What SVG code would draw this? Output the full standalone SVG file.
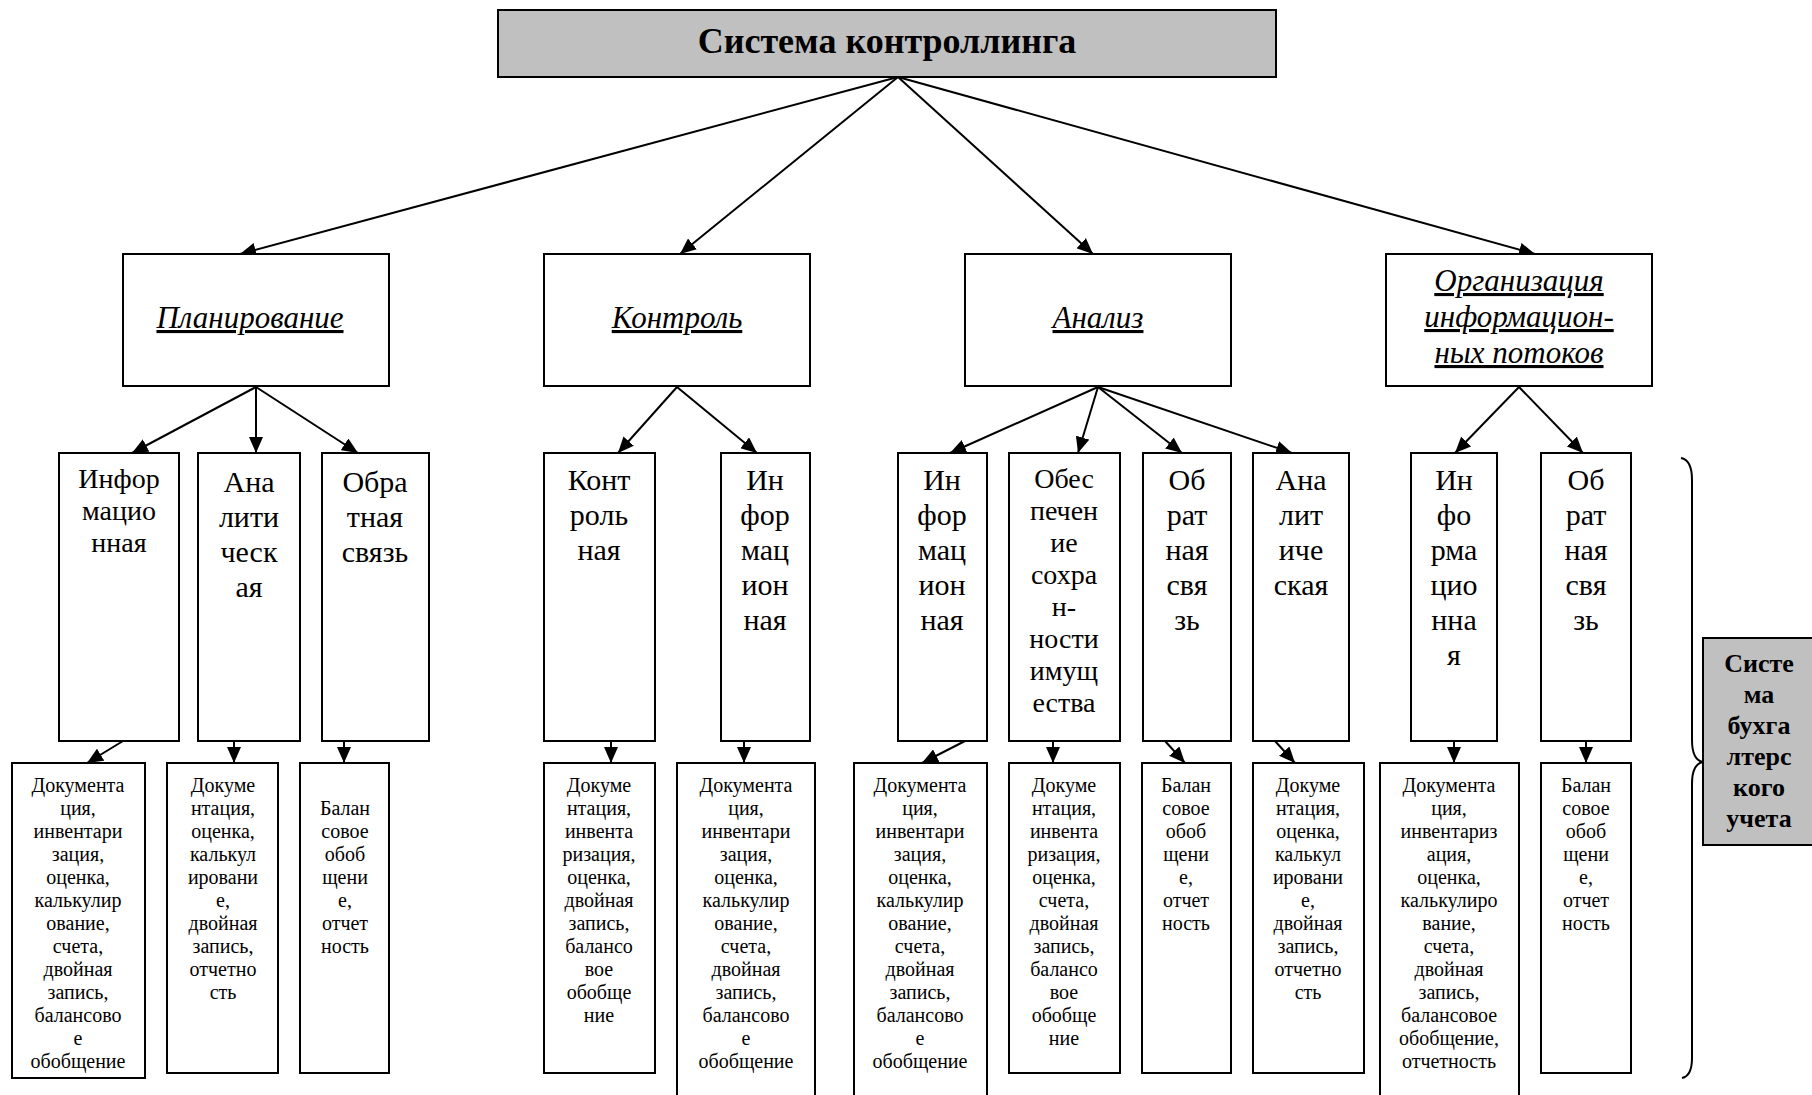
<svg xmlns="http://www.w3.org/2000/svg" width="1812" height="1095" viewBox="0 0 1812 1095" font-family="Liberation Serif, Tinos, Times New Roman, DejaVu Serif, serif">
<style>
.b{fill:#fff;stroke:#000;stroke-width:2}
.g{fill:#c0c0c0;stroke:#000;stroke-width:2}
text{font-family:'Liberation Serif','Tinos','Times New Roman','DejaVu Serif',serif;fill:#000;text-anchor:middle}
.t{font-size:36px;font-weight:bold}
.h{font-size:31px;font-style:italic;text-decoration:underline}
.m{font-size:30px}
.m2{font-size:28px}
.s{font-size:20px}
.r{font-size:26px;font-weight:bold}
.c{stroke:#000;stroke-width:2;fill:none;marker-end:url(#ah)}
</style>
<defs>
<marker id="ah" markerUnits="userSpaceOnUse" markerWidth="16" markerHeight="14" refX="16" refY="7" orient="auto">
<path d="M0,0 L16,7 L0,14 z" fill="#000"/>
</marker>
</defs>
<g id="connectors">
<line class="c" x1="898" y1="77" x2="240" y2="254"/>
<line class="c" x1="898" y1="77" x2="680" y2="254"/>
<line class="c" x1="898" y1="77" x2="1093" y2="254"/>
<line class="c" x1="898" y1="77" x2="1535" y2="254"/>
<line class="c" x1="256" y1="387" x2="132" y2="453"/>
<line class="c" x1="256" y1="387" x2="256" y2="453"/>
<line class="c" x1="256" y1="387" x2="358" y2="453"/>
<line class="c" x1="677" y1="387" x2="618" y2="453"/>
<line class="c" x1="677" y1="387" x2="757" y2="453"/>
<line class="c" x1="1098" y1="387" x2="950" y2="453"/>
<line class="c" x1="1098" y1="387" x2="1078" y2="453"/>
<line class="c" x1="1098" y1="387" x2="1182" y2="453"/>
<line class="c" x1="1098" y1="387" x2="1292" y2="453"/>
<line class="c" x1="1519" y1="387" x2="1455" y2="453"/>
<line class="c" x1="1519" y1="387" x2="1583" y2="453"/>
<line class="c" x1="123" y1="741" x2="87" y2="763"/>
<line class="c" x1="234" y1="741" x2="234" y2="763"/>
<line class="c" x1="344" y1="741" x2="344" y2="763"/>
<line class="c" x1="611" y1="741" x2="611" y2="763"/>
<line class="c" x1="744" y1="741" x2="744" y2="763"/>
<line class="c" x1="965" y1="741" x2="922" y2="763"/>
<line class="c" x1="1053" y1="741" x2="1053" y2="763"/>
<line class="c" x1="1165" y1="741" x2="1185" y2="763"/>
<line class="c" x1="1275" y1="741" x2="1295" y2="763"/>
<line class="c" x1="1454" y1="741" x2="1454" y2="763"/>
<line class="c" x1="1586" y1="741" x2="1586" y2="763"/>
</g>
<g id="root"><rect class="g" x="498" y="10" width="778" height="67"/><text class="t" x="887" y="53">Система контроллинга</text></g>
<g id="plan"><rect class="b" x="123" y="254" width="266" height="132"/><text class="h" x="250" y="328">Планирование</text></g>
<g id="control"><rect class="b" x="544" y="254" width="266" height="132"/><text class="h" x="677" y="328">Контроль</text></g>
<g id="analysis"><rect class="b" x="965" y="254" width="266" height="132"/><text class="h" x="1098" y="328">Анализ</text></g>
<g id="org"><rect class="b" x="1386" y="254" width="266" height="132"/><text class="h" x="1519"><tspan x="1519" y="291">Организация</tspan><tspan x="1519" y="327">информацион-</tspan><tspan x="1519" y="363">ных потоков</tspan></text></g>

<g id="p1"><rect class="b" x="59" y="453" width="120" height="288"/><text class="m2"><tspan x="119" y="488">Инфор</tspan><tspan x="119" y="520">мацио</tspan><tspan x="119" y="552">нная</tspan></text></g>
<g id="p2"><rect class="b" x="198" y="453" width="102" height="288"/><text class="m"><tspan x="249" y="492">Ана</tspan><tspan x="249" y="527">лити</tspan><tspan x="249" y="562">ческ</tspan><tspan x="249" y="597">ая</tspan></text></g>
<g id="p3"><rect class="b" x="322" y="453" width="107" height="288"/><text class="m"><tspan x="375" y="492">Обра</tspan><tspan x="375" y="527">тная</tspan><tspan x="375" y="562">связь</tspan></text></g>
<g id="c1"><rect class="b" x="544" y="453" width="111" height="288"/><text class="m"><tspan x="599" y="490">Конт</tspan><tspan x="599" y="525">роль</tspan><tspan x="599" y="560">ная</tspan></text></g>
<g id="c2"><rect class="b" x="721" y="453" width="89" height="288"/><text class="m"><tspan x="765" y="490">Ин</tspan><tspan x="765" y="525">фор</tspan><tspan x="765" y="560">мац</tspan><tspan x="765" y="595">ион</tspan><tspan x="765" y="630">ная</tspan></text></g>
<g id="a1"><rect class="b" x="898" y="453" width="89" height="288"/><text class="m"><tspan x="942" y="490">Ин</tspan><tspan x="942" y="525">фор</tspan><tspan x="942" y="560">мац</tspan><tspan x="942" y="595">ион</tspan><tspan x="942" y="630">ная</tspan></text></g>
<g id="a2"><rect class="b" x="1009" y="453" width="111" height="288"/><text class="m2"><tspan x="1064" y="488">Обес</tspan><tspan x="1064" y="520">печен</tspan><tspan x="1064" y="552">ие</tspan><tspan x="1064" y="584">сохра</tspan><tspan x="1064" y="616">н-</tspan><tspan x="1064" y="648">ности</tspan><tspan x="1064" y="680">имущ</tspan><tspan x="1064" y="712">ества</tspan></text></g>
<g id="a3"><rect class="b" x="1143" y="453" width="88" height="288"/><text class="m"><tspan x="1187" y="490">Об</tspan><tspan x="1187" y="525">рат</tspan><tspan x="1187" y="560">ная</tspan><tspan x="1187" y="595">свя</tspan><tspan x="1187" y="630">зь</tspan></text></g>
<g id="a4"><rect class="b" x="1253" y="453" width="96" height="288"/><text class="m"><tspan x="1301" y="490">Ана</tspan><tspan x="1301" y="525">лит</tspan><tspan x="1301" y="560">иче</tspan><tspan x="1301" y="595">ская</tspan></text></g>
<g id="o1"><rect class="b" x="1411" y="453" width="86" height="288"/><text class="m"><tspan x="1454" y="490">Ин</tspan><tspan x="1454" y="525">фо</tspan><tspan x="1454" y="560">рма</tspan><tspan x="1454" y="595">цио</tspan><tspan x="1454" y="630">нна</tspan><tspan x="1454" y="665">я</tspan></text></g>
<g id="o2"><rect class="b" x="1541" y="453" width="90" height="288"/><text class="m"><tspan x="1586" y="490">Об</tspan><tspan x="1586" y="525">рат</tspan><tspan x="1586" y="560">ная</tspan><tspan x="1586" y="595">свя</tspan><tspan x="1586" y="630">зь</tspan></text></g>

<g id="p1d"><rect class="b" x="12" y="763" width="133" height="315"/><text class="s"><tspan x="78" y="792">Документа</tspan><tspan x="78" y="815">ция,</tspan><tspan x="78" y="838">инвентари</tspan><tspan x="78" y="861">зация,</tspan><tspan x="78" y="884">оценка,</tspan><tspan x="78" y="907">калькулир</tspan><tspan x="78" y="930">ование,</tspan><tspan x="78" y="953">счета,</tspan><tspan x="78" y="976">двойная</tspan><tspan x="78" y="999">запись,</tspan><tspan x="78" y="1022">балансово</tspan><tspan x="78" y="1045">е</tspan><tspan x="78" y="1068">обобщение</tspan></text></g>
<g id="p2d"><rect class="b" x="167" y="763" width="111" height="310"/><text class="s"><tspan x="223" y="792">Докуме</tspan><tspan x="223" y="815">нтация,</tspan><tspan x="223" y="838">оценка,</tspan><tspan x="223" y="861">калькул</tspan><tspan x="223" y="884">ировани</tspan><tspan x="223" y="907">е,</tspan><tspan x="223" y="930">двойная</tspan><tspan x="223" y="953">запись,</tspan><tspan x="223" y="976">отчетно</tspan><tspan x="223" y="999">сть</tspan></text></g>
<g id="p3d"><rect class="b" x="300" y="763" width="89" height="310"/><text class="s"><tspan x="345" y="815">Балан</tspan><tspan x="345" y="838">совое</tspan><tspan x="345" y="861">обоб</tspan><tspan x="345" y="884">щени</tspan><tspan x="345" y="907">е,</tspan><tspan x="345" y="930">отчет</tspan><tspan x="345" y="953">ность</tspan></text></g>
<g id="c1d"><rect class="b" x="544" y="763" width="111" height="310"/><text class="s"><tspan x="599" y="792">Докуме</tspan><tspan x="599" y="815">нтация,</tspan><tspan x="599" y="838">инвента</tspan><tspan x="599" y="861">ризация,</tspan><tspan x="599" y="884">оценка,</tspan><tspan x="599" y="907">двойная</tspan><tspan x="599" y="930">запись,</tspan><tspan x="599" y="953">балансо</tspan><tspan x="599" y="976">вое</tspan><tspan x="599" y="999">обобще</tspan><tspan x="599" y="1022">ние</tspan></text></g>
<g id="c2d"><rect class="b" x="677" y="763" width="138" height="340"/><text class="s"><tspan x="746" y="792">Документа</tspan><tspan x="746" y="815">ция,</tspan><tspan x="746" y="838">инвентари</tspan><tspan x="746" y="861">зация,</tspan><tspan x="746" y="884">оценка,</tspan><tspan x="746" y="907">калькулир</tspan><tspan x="746" y="930">ование,</tspan><tspan x="746" y="953">счета,</tspan><tspan x="746" y="976">двойная</tspan><tspan x="746" y="999">запись,</tspan><tspan x="746" y="1022">балансово</tspan><tspan x="746" y="1045">е</tspan><tspan x="746" y="1068">обобщение</tspan></text></g>
<g id="a1d"><rect class="b" x="854" y="763" width="133" height="340"/><text class="s"><tspan x="920" y="792">Документа</tspan><tspan x="920" y="815">ция,</tspan><tspan x="920" y="838">инвентари</tspan><tspan x="920" y="861">зация,</tspan><tspan x="920" y="884">оценка,</tspan><tspan x="920" y="907">калькулир</tspan><tspan x="920" y="930">ование,</tspan><tspan x="920" y="953">счета,</tspan><tspan x="920" y="976">двойная</tspan><tspan x="920" y="999">запись,</tspan><tspan x="920" y="1022">балансово</tspan><tspan x="920" y="1045">е</tspan><tspan x="920" y="1068">обобщение</tspan></text></g>
<g id="a2d"><rect class="b" x="1009" y="763" width="111" height="310"/><text class="s"><tspan x="1064" y="792">Докуме</tspan><tspan x="1064" y="815">нтация,</tspan><tspan x="1064" y="838">инвента</tspan><tspan x="1064" y="861">ризация,</tspan><tspan x="1064" y="884">оценка,</tspan><tspan x="1064" y="907">счета,</tspan><tspan x="1064" y="930">двойная</tspan><tspan x="1064" y="953">запись,</tspan><tspan x="1064" y="976">балансо</tspan><tspan x="1064" y="999">вое</tspan><tspan x="1064" y="1022">обобще</tspan><tspan x="1064" y="1045">ние</tspan></text></g>
<g id="a3d"><rect class="b" x="1142" y="763" width="89" height="310"/><text class="s"><tspan x="1186" y="792">Балан</tspan><tspan x="1186" y="815">совое</tspan><tspan x="1186" y="838">обоб</tspan><tspan x="1186" y="861">щени</tspan><tspan x="1186" y="884">е,</tspan><tspan x="1186" y="907">отчет</tspan><tspan x="1186" y="930">ность</tspan></text></g>
<g id="a4d"><rect class="b" x="1253" y="763" width="111" height="310"/><text class="s"><tspan x="1308" y="792">Докуме</tspan><tspan x="1308" y="815">нтация,</tspan><tspan x="1308" y="838">оценка,</tspan><tspan x="1308" y="861">калькул</tspan><tspan x="1308" y="884">ировани</tspan><tspan x="1308" y="907">е,</tspan><tspan x="1308" y="930">двойная</tspan><tspan x="1308" y="953">запись,</tspan><tspan x="1308" y="976">отчетно</tspan><tspan x="1308" y="999">сть</tspan></text></g>
<g id="o1d"><rect class="b" x="1380" y="763" width="139" height="340"/><text class="s"><tspan x="1449" y="792">Документа</tspan><tspan x="1449" y="815">ция,</tspan><tspan x="1449" y="838">инвентариз</tspan><tspan x="1449" y="861">ация,</tspan><tspan x="1449" y="884">оценка,</tspan><tspan x="1449" y="907">калькулиро</tspan><tspan x="1449" y="930">вание,</tspan><tspan x="1449" y="953">счета,</tspan><tspan x="1449" y="976">двойная</tspan><tspan x="1449" y="999">запись,</tspan><tspan x="1449" y="1022">балансовое</tspan><tspan x="1449" y="1045">обобщение,</tspan><tspan x="1449" y="1068">отчетность</tspan></text></g>
<g id="o2d"><rect class="b" x="1541" y="763" width="90" height="310"/><text class="s"><tspan x="1586" y="792">Балан</tspan><tspan x="1586" y="815">совое</tspan><tspan x="1586" y="838">обоб</tspan><tspan x="1586" y="861">щени</tspan><tspan x="1586" y="884">е,</tspan><tspan x="1586" y="907">отчет</tspan><tspan x="1586" y="930">ность</tspan></text></g>

<g id="brace"><path d="M1681,458 Q1692,460 1692,480 L1692,740 Q1692,760 1703,762 Q1692,764 1692,784 L1692,1058 Q1692,1076 1682,1078" fill="none" stroke="#000" stroke-width="2"/></g>
<g id="accounting"><rect class="g" x="1703" y="638" width="115" height="207"/><text class="r"><tspan x="1759" y="672">Систе</tspan><tspan x="1759" y="703">ма</tspan><tspan x="1759" y="734">бухга</tspan><tspan x="1759" y="765">лтерс</tspan><tspan x="1759" y="796">кого</tspan><tspan x="1759" y="827">учета</tspan></text></g>
</svg>
